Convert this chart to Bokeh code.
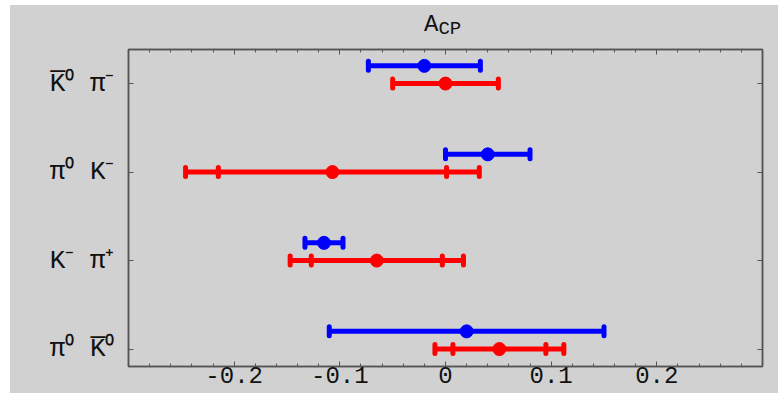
import math
from bokeh.plotting import figure
from bokeh.layouts import column
from bokeh.models import FixedTicker, Range1d, LinearAxis, ColumnDataSource, Div
from bokeh.embed import file_html
from bokeh.resources import INLINE

# ---------------- data ----------------
channels = ["π⁰ K̅⁰", "K⁻ π⁺", "π⁰ K⁻", "K̅⁰ π⁻"]
positions = [1, 2, 3, 4]

blue_central = [0.020, -0.115, 0.040, -0.020]
blue_error = [0.130, 0.018, 0.040, 0.053]

red_central = [0.051, -0.065, -0.107, 0.000]
red_inner_error = [0.044, 0.062, 0.108, None]
red_outer_error = [0.061, 0.082, 0.139, 0.050]

x_ticks = [-0.2, -0.1, 0.0, 0.1, 0.2]
x_tick_labels = ["-0.2", "-0.1", "0", "0.1", "0.2"]
x_minor_ticks = [-0.28, -0.26, -0.24, -0.22, -0.18, -0.16, -0.14, -0.12,
                 -0.08, -0.06, -0.04, -0.02, 0.02, 0.04, 0.06, 0.08,
                 0.12, 0.14, 0.16, 0.18, 0.22, 0.24, 0.26, 0.28]
title_main = "A"
title_sub = "CP"

# ---------------- style ----------------
BG = "#d1d1d1"
FRAME = "#555555"
FONT = "Liberation Mono"
BLUE = "#0000ff"
RED = "#ff0000"
BLUE_SHIFT = 0.2
X0, X1 = -0.3, 0.3
Y0, Y1 = 0.803, 4.385

p = figure(width=768, height=349, x_range=Range1d(X0, X1), y_range=Range1d(Y0, Y1),
           output_backend="svg", toolbar_location=None,
           x_axis_location=None, y_axis_location=None,
           min_border_left=118, min_border_right=16, min_border_top=5, min_border_bottom=27,
           background_fill_color=BG, border_fill_color=BG,
           outline_line_color=FRAME, outline_line_width=1.5)
p.margin = 0
p.grid.visible = False


def style_axis(ax, size="26px"):
    ax.axis_line_color = FRAME
    ax.axis_line_width = 1.5
    ax.major_tick_line_color = FRAME
    ax.minor_tick_line_color = FRAME
    ax.major_tick_in = 5
    ax.major_tick_out = 0
    ax.minor_tick_in = 3
    ax.minor_tick_out = 0
    ax.major_label_text_font = FONT
    ax.major_label_text_font_size = size
    ax.major_label_text_color = "#111111"


xticker = FixedTicker(ticks=x_ticks, minor_ticks=x_minor_ticks)
yticker = FixedTicker(ticks=positions, minor_ticks=[])

bottom = LinearAxis(ticker=xticker, major_label_overrides=dict(zip(x_ticks, x_tick_labels)))
style_axis(bottom, "24px")
bottom.major_label_standoff = 0
p.add_layout(bottom, "below")

top = LinearAxis(ticker=xticker, major_label_overrides={t: "" for t in x_ticks})
style_axis(top, "1px")
top.major_label_standoff = 0
p.add_layout(top, "above")

left = LinearAxis(ticker=yticker, major_label_overrides=dict(zip(positions, channels)))
style_axis(left)
left.major_label_standoff = 14
p.add_layout(left, "left")

right = LinearAxis(ticker=yticker, major_label_overrides={t: "" for t in positions})
style_axis(right, "1px")
right.major_label_standoff = 0
p.add_layout(right, "right")

# ---------------- blue points ----------------
by = [y + BLUE_SHIFT for y in positions]
blue_src = ColumnDataSource(dict(
    y=by, c=blue_central,
    lo=[c - e for c, e in zip(blue_central, blue_error)],
    hi=[c + e for c, e in zip(blue_central, blue_error)]))
p.segment(x0="lo", x1="hi", y0="y", y1="y", source=blue_src, line_color=BLUE, line_width=5)
for col in ("lo", "hi"):
    p.scatter(x=col, y="y", source=blue_src, marker="dash", angle=math.pi / 2, size=9,
              line_color=BLUE, line_width=5, line_cap="round")
p.scatter(x="c", y="y", source=blue_src, marker="circle", size=13,
          fill_color=BLUE, line_color=BLUE)

# ---------------- red points ----------------
red_src = ColumnDataSource(dict(
    y=positions, c=red_central,
    lo=[c - e for c, e in zip(red_central, red_outer_error)],
    hi=[c + e for c, e in zip(red_central, red_outer_error)]))
p.segment(x0="lo", x1="hi", y0="y", y1="y", source=red_src, line_color=RED, line_width=5)
for col in ("lo", "hi"):
    p.scatter(x=col, y="y", source=red_src, marker="dash", angle=math.pi / 2, size=9,
              line_color=RED, line_width=5, line_cap="round")
inner = [(y, c, e) for y, c, e in zip(positions, red_central, red_inner_error) if e is not None]
red_inner_src = ColumnDataSource(dict(
    y=[t[0] for t in inner],
    lo=[t[1] - t[2] for t in inner],
    hi=[t[1] + t[2] for t in inner]))
for col in ("lo", "hi"):
    p.scatter(x=col, y="y", source=red_inner_src, marker="dash", angle=math.pi / 2, size=9,
              line_color=RED, line_width=5, line_cap="round")
p.scatter(x="c", y="y", source=red_src, marker="circle", size=13,
          fill_color=RED, line_color=RED)

# ---------------- title ----------------
title_html = (
    '<div style="padding-top:8px;padding-left:414px;font-family:\'Liberation Mono\';'
    'font-size:24px;line-height:24px;color:#111111;white-space:nowrap">'
    f'{title_main}<span style="font-size:19px;position:relative;top:3px">{title_sub}</span></div>'
)
title_div = Div(text=title_html, width=768, height=39, margin=0,
                styles={"background-color": BG})

layout = column(title_div, p, spacing=0, margin=(5, 0, 0, 10),
                styles={"background-color": BG})

open("out.html", "w").write(file_html(layout, INLINE))
